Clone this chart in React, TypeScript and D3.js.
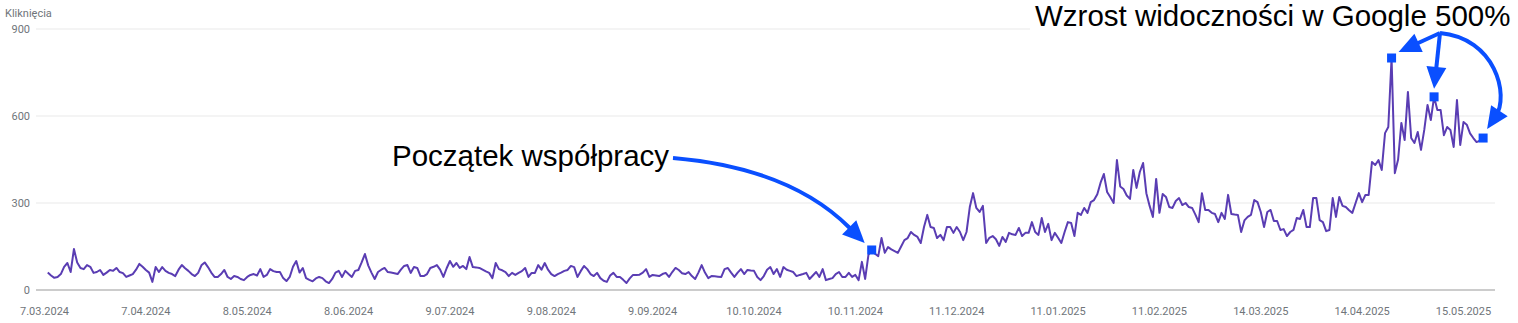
import React from "react";
import * as d3 from "d3";

const START_DATE = "2024-03-08";
const clicks: number[] = [
  // 8.03.2024 ...
  60,50,42,45,55,80,93,62,141,95,76,72,86,80,59,62,69,52,60,69,66,76,62,58,45,50,55,70,90,80,69,60,28,79,62,79,66,59,55,
  48,70,86,75,66,55,48,59,85,95,79,60,45,45,55,69,45,38,48,45,38,34,45,52,55,50,72,45,52,72,65,62,62,41,31,45,80,100,60,76,41,
  35,30,40,45,41,30,24,38,60,66,45,66,55,45,66,69,95,124,85,60,38,62,70,76,62,60,58,55,70,83,86,59,79,76,48,48,55,76,80,86,
  70,45,75,100,80,93,76,83,72,114,79,78,76,70,64,59,41,93,72,68,62,48,59,52,59,65,76,45,59,59,86,70,93,70,55,48,55,60,66,69,
  83,79,45,65,83,72,55,48,59,41,32,28,50,59,45,45,35,24,40,52,52,53,60,72,45,52,50,48,55,59,45,62,76,69,58,55,62,48,38,60,
  86,60,41,48,47,46,45,72,76,60,45,60,72,55,69,67,66,45,34,48,70,79,55,72,45,79,70,66,62,48,52,55,59,38,50,62,45,72,34,38,
  41,55,62,45,45,59,45,52,34,97,38,121,138,125,117,179,128,148,140,134,128,150,172,179,200,190,183,162,217,259,217,214,179,190,172,217,217,197,217,200,
  172,200,286,334,283,269,290,162,180,186,175,152,183,166,197,192,190,214,186,197,197,234,200,190,248,200,228,172,197,180,162,200,234,231,186,266,259,283,266,303,
  310,330,370,400,338,320,300,448,357,348,326,314,414,352,407,438,334,290,252,383,266,331,321,286,283,307,317,293,300,286,283,260,234,334,276,276,266,262,234,266,
  245,328,262,260,259,200,240,252,259,310,303,269,217,269,276,238,238,207,210,186,200,207,248,245,276,217,217,317,317,241,234,203,207,317,252,321,290,286,275,266,
  300,334,303,328,328,441,431,448,414,541,562,800,403,450,576,517,683,524,507,545,483,552,638,586,666,621,621,534,562,552,493,655,500,579,570,540,524,510,515,524,
];

const xTickLabels = [
  "7.03.2024", "7.04.2024", "8.05.2024", "8.06.2024", "9.07.2024", "9.08.2024", "9.09.2024",
  "10.10.2024", "10.11.2024", "11.12.2024", "11.01.2025", "11.02.2025", "14.03.2025", "14.04.2025", "15.05.2025",
];
const yTicks = [0, 300, 600, 900];
const yTitle = "Kliknięcia";
const highlightIdx = [252, 411, 424, 439];
const noteStart = "Początek współpracy";
const noteGrowth = "Wzrost widoczności w Google 500%";

const parseLabel = (s: string) => {
  const [d, m, y] = s.split(".").map(Number);
  return new Date(Date.UTC(y, m - 1, d));
};

const W = 1518;
const H = 323;
const BLUE = "#0a4fff";
const LINE = "#5a3db3";
const TXT = "#70757a";

function arrowHead(tip: [number, number], from: [number, number], len = 22, half = 10) {
  const dx = tip[0] - from[0];
  const dy = tip[1] - from[1];
  const l = Math.hypot(dx, dy);
  const ux = dx / l, uy = dy / l;
  const bx = tip[0] - ux * len, by = tip[1] - uy * len;
  const px = -uy, py = ux;
  return `M${tip[0]},${tip[1]}L${bx + px * half},${by + py * half}L${bx - px * half},${by - py * half}Z`;
}

export default function App() {
  const start = new Date(START_DATE + "T00:00:00Z");
  const data = clicks.map((v, i) => ({ date: new Date(start.getTime() + i * 86400000), v }));
  const tickDates = xTickLabels.map(parseLabel);

  const x = d3.scaleUtc().domain([tickDates[0], tickDates[tickDates.length - 1]]).range([44.5, 1463.5]);
  const y = d3.scaleLinear().domain([0, 900]).range([290, 29]);

  const line = d3.line<{ date: Date; v: number }>().x((d) => x(d.date)).y((d) => y(d.v)).curve(d3.curveLinear);

  const pts = highlightIdx.map((i) => [x(data[i].date), y(data[i].v)] as [number, number]);

  // annotation 1 geometry
  const t1End: [number, number] = [673, 158];
  const tip1: [number, number] = [pts[0][0] - 7, pts[0][1] - 7];
  const c1: [number, number] = [790, 168];
  const stop1: [number, number] = [tip1[0] - (tip1[0] - c1[0]) * 0.2, tip1[1] - (tip1[1] - c1[1]) * 0.2];

  const origin: [number, number] = [1440, 33];
  const tipA: [number, number] = [pts[1][0] + 7, pts[1][1] - 6];
  const tipB: [number, number] = [pts[2][0], pts[2][1] - 8];
  const tipC: [number, number] = [pts[3][0] + 4, pts[3][1] - 9];
  const cC1: [number, number] = [1495, 38];
  const cC2: [number, number] = [1510, 95];

  const shorten = (tip: [number, number], from: [number, number], by: number): [number, number] => {
    const dx = tip[0] - from[0], dy = tip[1] - from[1];
    const l = Math.hypot(dx, dy);
    return [tip[0] - (dx / l) * by, tip[1] - (dy / l) * by];
  };
  const endA = shorten(tipA, origin, 15);
  const endB = shorten(tipB, origin, 15);
  const endC = shorten(tipC, cC2, 15);

  return (
    <svg width={W} height={H} style={{ position: "absolute", left: 0, top: 0, background: "#fff" }}
      fontFamily="Roboto, Arial, sans-serif">
      <text x={5} y={17} fontSize={11} fill={TXT}>{yTitle}</text>
      {yTicks.map((t) => (
        <g key={t}>
          {t > 0 && <line x1={36} x2={1495} y1={y(t)} y2={y(t)} stroke="#f0f0f0" strokeWidth={1.5} />}
          <text x={30} y={y(t)} dy="0.35em" fontSize={11} fill={TXT} textAnchor="end">{t}</text>
        </g>
      ))}
      <line x1={36} x2={1495} y1={y(0)} y2={y(0)} stroke="#cccccc" strokeWidth={2} />
      {xTickLabels.map((lab, i) => (
        <text key={lab} x={x(tickDates[i])} y={315} fontSize={11} fill={TXT} textAnchor="middle">{lab}</text>
      ))}
      <path d={line(data) || ""} fill="none" stroke={LINE} strokeWidth={2} strokeLinejoin="round" />

      {/* annotation: start of cooperation */}
      <text x={392} y={166} fontSize={29.5} fontFamily="'Liberation Sans', Arial, sans-serif" fill="#000">{noteStart}</text>
      <path d={`M${t1End[0]},${t1End[1]}Q${c1[0]},${c1[1]} ${stop1[0]},${stop1[1]}`} fill="none" stroke={BLUE} strokeWidth={4} />
      <path d={arrowHead(tip1, c1, 22, 10)} fill={BLUE} />

      {/* annotation: growth */}
      <rect x={1030} y={0} width={488} height={36} fill="#fff" />
      <text x={1035} y={26} fontSize={29.5} fontFamily="'Liberation Sans', Arial, sans-serif" fill="#000">{noteGrowth}</text>
      <path d={`M${origin[0]},${origin[1]}L${endA[0]},${endA[1]}`} stroke={BLUE} strokeWidth={4} fill="none" />
      <path d={arrowHead(tipA, origin, 22, 10)} fill={BLUE} />
      <path d={`M${origin[0]},${origin[1]}L${endB[0]},${endB[1]}`} stroke={BLUE} strokeWidth={4} fill="none" />
      <path d={arrowHead(tipB, origin, 22, 10)} fill={BLUE} />
      <path d={`M${origin[0]},${origin[1]}C${cC1[0]},${cC1[1]} ${cC2[0]},${cC2[1]} ${endC[0]},${endC[1]}`} stroke={BLUE} strokeWidth={4} fill="none" />
      <path d={arrowHead(tipC, cC2, 22, 10)} fill={BLUE} />

      {pts.map((p, i) => (
        <rect key={i} x={p[0] - 4.5} y={p[1] - 4.5} width={9} height={9} fill={BLUE} />
      ))}
    </svg>
  );
}
